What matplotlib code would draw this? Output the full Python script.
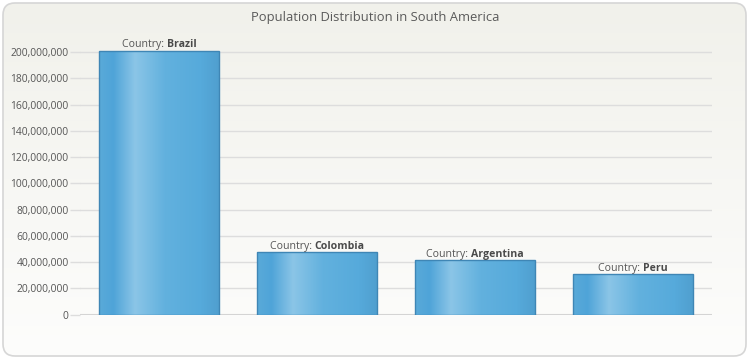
import numpy as np
import matplotlib
matplotlib.use('Agg')
import matplotlib.pyplot as plt
from matplotlib.colors import LinearSegmentedColormap
from matplotlib.patches import FancyBboxPatch, Rectangle
import matplotlib.transforms as mtransforms

## data ##
countries = ['Brazil', 'Colombia', 'Argentina', 'Peru']
population = [201000000, 47400000, 41300000, 30600000]
yticks = list(range(0, 200000001, 20000000))
title = 'Population Distribution in South America'

## style ##
FONT = 'Open Sans'
TXT = '#555555'
GRID = '#dddddd'
bar_cmap = LinearSegmentedColormap.from_list('bar', [
    (0.0, '#5aaad9'), (0.12, '#4fa4d8'), (0.30, '#8bc5e7'),
    (0.55, '#62b1de'), (0.85, '#56aadb'), (1.0, '#509fcf')])
bg_cmap = LinearSegmentedColormap.from_list('bg', ['#f1f1eb', '#fdfdfc'])

fig = plt.figure(figsize=(7.5, 3.6), dpi=100)
fig.patch.set_facecolor('white')

#------------- background panel -------------#
bg = fig.add_axes([0, 0, 1, 1])
bg.set_xlim(0, 750); bg.set_ylim(360, 0); bg.axis('off')
panel = FancyBboxPatch((3, 3), 743, 353, boxstyle='round,pad=0,rounding_size=12',
                       facecolor='none', edgecolor='#d6d6d6', lw=1.2, zorder=3)
bg.add_patch(panel)
grad = np.linspace(0, 1, 256).reshape(-1, 1)
im = bg.imshow(grad, cmap=bg_cmap, extent=[3, 746, 356, 3], aspect='auto', zorder=1)
im.set_clip_path(panel)

#------------- chart axes -------------#
y0, y1 = 314.6, 52.0   # pixel positions of 0 and 200M
px_per = (y0 - y1) / 200000000
ymax = 210000000
top_px = y0 - ymax * px_per
ax = fig.add_axes([80 / 750, 1 - y0 / 360, 632 / 750, (y0 - top_px) / 360])
ax.set_facecolor('none')
ax.set_xlim(-0.5, len(countries) - 0.5)
ax.set_ylim(0, ymax)
for s in ax.spines.values():
    s.set_visible(False)
ax.set_yticks(yticks)
ax.set_yticklabels(['{:,}'.format(v) for v in yticks], fontsize=7.4, color=TXT, family=FONT)
ax.tick_params(axis='y', length=7, width=1, color=GRID, pad=1.2)
ax.set_xticks([])
for v in yticks[1:]:
    ax.axhline(v, color=GRID, lw=1, zorder=0)
ax.axhline(0, color='#d4d4d4', lw=2.2, zorder=0)

fig.text(0.5, 1 - 18 / 360, title, ha='center', va='center', fontsize=9.4,
         color='#5a5a5a', family=FONT)

#------------- bars -------------#
bw = 0.756
grad_x = np.linspace(0, 1, 256).reshape(1, -1)
renderer = fig.canvas.get_renderer()
for i, (c, v) in enumerate(zip(countries, population)):
    rect = Rectangle((i - bw / 2, 0), bw, v, facecolor='none', edgecolor='#3f86b5',
                     lw=1, zorder=3)
    ax.add_patch(rect)
    ax.imshow(grad_x, cmap=bar_cmap, extent=[i - bw / 2, i + bw / 2, 0, v],
              aspect='auto', zorder=2)
    ax.set_xlim(-0.5, len(countries) - 0.5)
    ax.set_ylim(0, ymax)

    ## label: "Country: " normal + name bold, centered over bar ##
    t1 = ax.text(i, v, 'Country: ', ha='left', va='bottom', fontsize=7.6,
                 color=TXT, family=FONT)
    t2 = ax.text(i, v, c, ha='left', va='bottom', fontsize=7.6,
                 color='#4a4a4a', family=FONT, fontweight='bold')
    w1 = t1.get_window_extent(renderer).width
    w2 = t2.get_window_extent(renderer).width
    start = -(w1 + w2) / 2
    t1.set_transform(mtransforms.offset_copy(ax.transData, fig=fig, x=start * 72 / 100,
                                             y=0.5, units='points'))
    t2.set_transform(mtransforms.offset_copy(ax.transData, fig=fig, x=(start + w1) * 72 / 100,
                                             y=0.5, units='points'))

fig.savefig('out.png', dpi=100, facecolor=fig.get_facecolor())
